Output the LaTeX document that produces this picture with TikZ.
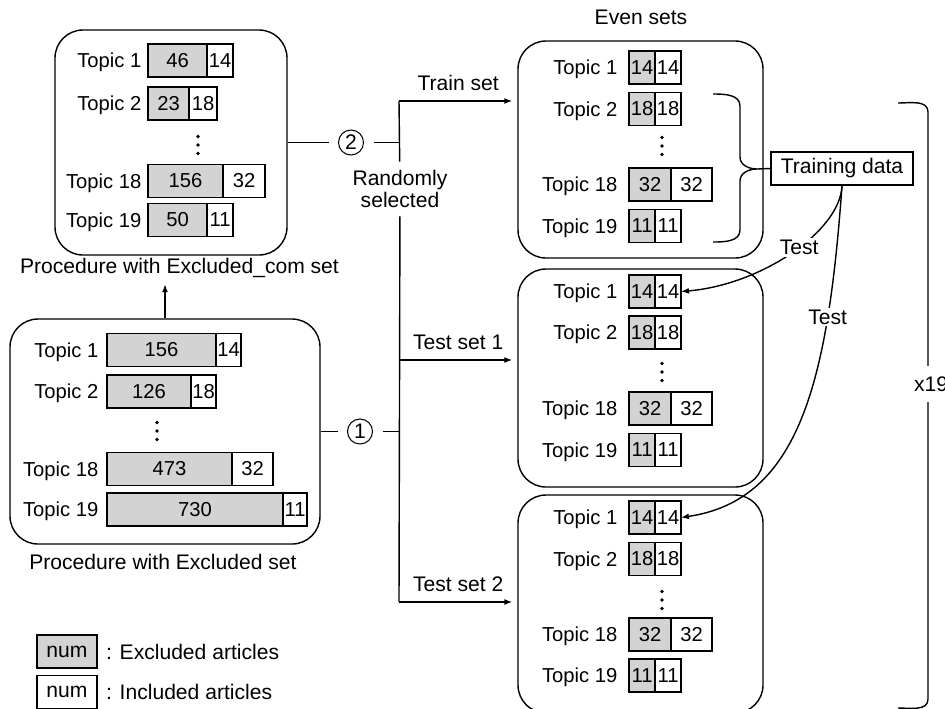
\documentclass[tikz,border=0pt]{standalone}
\usepackage{fontspec}
\setmainfont{Liberation Sans}
\usetikzlibrary{arrows.meta,positioning,calc}
\definecolor{exclgray}{RGB}{211,211,211}
\newcommand{\px}{0.02cm}
% one topic line: prefix, label x, bar x, y, label, excluded width/value, included width/value
\newcommand{\topicrow}[9]{%
  \node[lbl, anchor=east] (#1l) at (#2,#4) {#5};
  \node[excl, minimum width=#6*\px, anchor=west] (#1g) at (#3,#4) {#7};
  \node[incl, minimum width=#8*\px, anchor=west] (#1w) at (#1g.east) {#9};%
}
% three stacked dots round a named coordinate
\newcommand{\dotsat}[1]{%
  \foreach \d in {-8.5,0,8.5} \fill ($(#1)+(0,\d)$) circle (1.8);%
}

\begin{document}
\begin{tikzpicture}[
  x=\px, y=-\px, line width=0.8pt,
  >={Latex[length=4.5pt,width=3.4pt]},
  font=\fontsize{12}{12.5}\selectfont,
  setbox/.style={draw, rounded corners=0.56cm, inner sep=0},
  excl/.style={draw, fill=exclgray, minimum height=0.66cm, inner sep=0, outer sep=0, font=\fontsize{11.5}{12}\selectfont},
  incl/.style={excl, fill=white},
  lbl/.style={inner sep=0, text height=8.2pt, text depth=0pt, font=\fontsize{11.5}{12}\selectfont},
  circnum/.style={circle, draw, line width=0.6pt, minimum size=0.5cm, inner sep=0, outer sep=0.2cm},
  tlab/.style={fill=white, inner sep=1pt}
]
\useasboundingbox (0,0) rectangle (945,708);

% the sets
\node[setbox, minimum width=232*\px, minimum height=225*\px] (tlbox) at (171,142.5) {};
\node[setbox, minimum width=310*\px, minimum height=225*\px] (blbox) at (165,431.5) {};
\node[setbox, minimum width=245*\px, minimum height=217*\px] (trbox) at (640.5,149.5) {};
\node[setbox, minimum width=245*\px, minimum height=218*\px] (mrbox) at (640.5,378) {};
\node[setbox, minimum width=245*\px, minimum height=218*\px] (brbox) at (640.5,604) {};

\topicrow{tl1}{142}{148}{60.5}{Topic 1}{59}{46}{26}{14}
\topicrow{tl2}{142}{148}{103.5}{Topic 2}{41}{23}{28}{18}
\coordinate (tldots) at (198,145);
\topicrow{tl18}{142}{148}{181}{Topic 18}{75}{156}{42}{32}
\topicrow{tl19}{142}{148}{220}{Topic 19}{59}{50}{26}{11}

\topicrow{bl1}{99}{107}{350}{Topic 1}{109}{156}{25}{14}
\topicrow{bl2}{99}{107}{391.5}{Topic 2}{84}{126}{25}{18}
\coordinate (bldots) at (157,431);
\topicrow{bl18}{99}{107}{469}{Topic 18}{125}{473}{41}{32}
\topicrow{bl19}{99}{107}{509.5}{Topic 19}{176}{730}{24}{11}

\topicrow{tr1}{618}{629}{67.5}{Topic 1}{26}{14}{26}{14}
\topicrow{tr2}{618}{629}{109}{Topic 2}{26}{18}{26}{18}
\coordinate (trdots) at (662,146);
\topicrow{tr18}{618}{629}{184.5}{Topic 18}{42}{32}{41}{32}
\topicrow{tr19}{618}{629}{226}{Topic 19}{26}{11}{26}{11}

\topicrow{mr1}{618}{629}{291.5}{Topic 1}{26}{14}{26}{14}
\topicrow{mr2}{618}{629}{332.5}{Topic 2}{26}{18}{26}{18}
\coordinate (mrdots) at (662,372);
\topicrow{mr18}{618}{629}{408.5}{Topic 18}{42}{32}{41}{32}
\topicrow{mr19}{618}{629}{450}{Topic 19}{26}{11}{26}{11}

\topicrow{br1}{618}{629}{517.5}{Topic 1}{26}{14}{26}{14}
\topicrow{br2}{618}{629}{559}{Topic 2}{26}{18}{26}{18}
\coordinate (brdots) at (662,600);
\topicrow{br18}{618}{629}{634.5}{Topic 18}{42}{32}{41}{32}
\topicrow{br19}{618}{629}{675.5}{Topic 19}{26}{11}{26}{11}

\dotsat{tldots} \dotsat{bldots} \dotsat{trdots} \dotsat{mrdots} \dotsat{brdots}

\node (capcom) at (179.5,268) {Procedure with Excluded\_com set};
\node (capex) at (163,562) {Procedure with Excluded set};
\node (even) at (641,17) {Even sets};

% legend
\node[excl, minimum width=60*\px, font=\fontsize{12}{12.5}\selectfont] (legex) at (67,651.5) {num};
\node[incl, minimum width=60*\px, font=\fontsize{12}{12.5}\selectfont] (legin) at (67,692) {num};
\node[right=0.05cm of legex] (legextxt) {: Excluded articles};
\node[right=0.05cm of legin] (legintxt) {: Included articles};

% splitting
\node[circnum] (two) at (351,142.5) {2};
\node[circnum] (one) at (360,431.5) {1};
\node[align=center, inner xsep=2pt, inner ysep=4.5pt] (rand) at (400,189) {Randomly\\selected};
\coordinate (jtr) at (399,101);
\coordinate (jmid) at (399,142.5);
\coordinate (jt1) at (399,360);
\coordinate (jbot) at (399,602);

\draw[->] (blbox.north) -- (blbox.north |- capcom.south);
\draw (tlbox.east) -- (two) -- (jmid);
\draw (blbox.east) -- (one) -- (blbox.east -| jmid);
\draw (jtr) -- (rand) -- (jbot);
\draw[->, shorten >=0.1cm] (jtr) -- (jtr -| trbox.west) node[midway, above=2pt] {Train set};
\draw[->, shorten >=0.1cm] (jt1) -- (jt1 -| mrbox.west) node[midway, above=2pt] {Test set 1};
\draw[->, shorten >=0.1cm] (jbot) -- (jbot -| brbox.west) node[midway, above=2pt] {Test set 2};

% training data and tests
\node[draw, inner sep=0, minimum width=142*\px, minimum height=33*\px] (td) at (842,168.5) {Training data};
\coordinate (bcusp) at (757,169);
\draw (713,94) to[out=0,in=90] (740,106) -- (740,157) to[out=-90,in=180] (bcusp)
  to[out=180,in=90] (740,181) -- (740,230) to[out=-90,in=0] (713,242);
\draw (bcusp) -- (td.west);
\draw[->] (td.south) .. controls (840,232) and (760,285) .. (mr1w.east) node[tlab, pos=0.45] {Test};
\draw[->] (td.south) .. controls (828,380) and (800,500) .. (br1w.east) node[tlab, pos=0.25] {Test};

% repeat bracket
\draw (898,103) to[out=0,in=90] (928,112) -- (928,699) to[out=-90,in=0] (898,708);
\node[fill=white, inner xsep=1pt, inner ysep=6pt] (times) at (931,384) {x19};
\end{tikzpicture}
\end{document}
